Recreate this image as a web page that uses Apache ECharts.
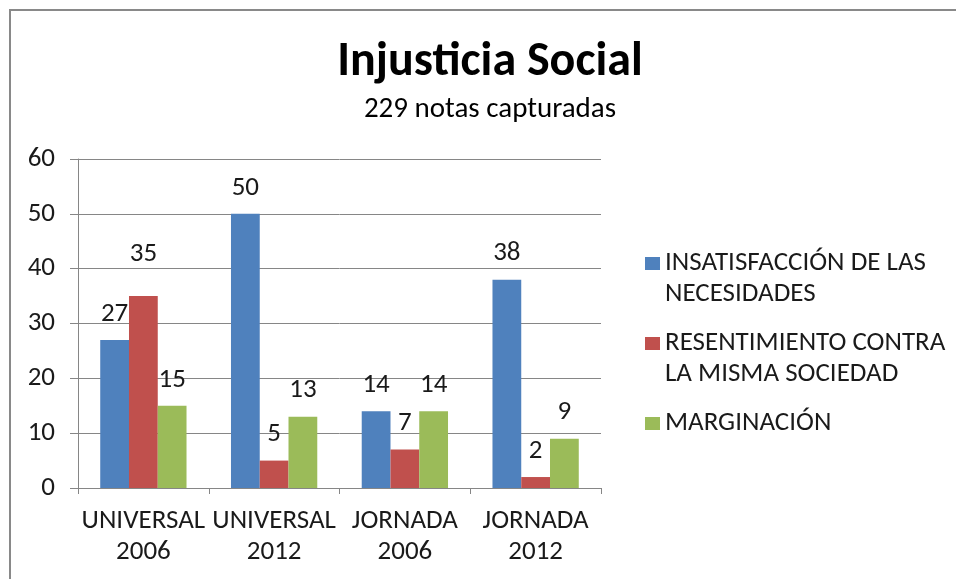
<!DOCTYPE html>
<html>
<head>
<meta charset="utf-8">
<title>Injusticia Social</title>
<script src="https://cdn.jsdelivr.net/npm/echarts@6/dist/echarts.min.js"></script>
<style>
  html, body { margin: 0; padding: 0; background: #fff; }
  #chart { width: 956px; height: 579px; }
</style>
</head>
<body>
<div id="chart"></div>
<script>
  // datos
  const categorias = ['UNIVERSAL\n2006', 'UNIVERSAL\n2012', 'JORNADA\n2006', 'JORNADA\n2012'];
  const nombres = [
    'INSATISFACCIÓN DE LAS\nNECESIDADES',
    'RESENTIMIENTO CONTRA\nLA MISMA SOCIEDAD',
    'MARGINACIÓN'
  ];
  const insatisfaccion = [27, 50, 14, 38];
  const resentimiento = [35, 5, 7, 2];
  const marginacion = [15, 13, 14, 9];
  const ejeY = [0, 10, 20, 30, 40, 50, 60];

  const fuente = 'Carlito, Lato, "Noto Sans", sans-serif';
  const gris = '#868686';
  const texto = '#1a1a1a';
  const colores = ['#4F81BD', '#C0504D', '#9BBB59'];

  const chart = echarts.init(document.getElementById('chart'));

  function serie (i, valores) {
    return {
      name: nombres[i],
      type: 'bar',
      barGap: 0,
      barCategoryGap: '34%',
      itemStyle: { color: colores[i] },
      label: {
        show: true,
        position: 'top',
        distance: 12,
        color: texto,
        fontFamily: fuente,
        fontSize: 27,
        lineHeight: 28
      },
      // la etiqueta del 35 va más arriba en el original
      data: valores.map((v, k) => (i === 1 && k === 0) ? { value: v, label: { distance: 28 } } : v)
    };
  }

  // una leyenda por serie; la línea vacía inicial deja el cuadro a la altura de la primera línea
  function leyenda (i, top) {
    return {
      data: [nombres[i]],
      orient: 'vertical',
      left: 645,
      top: top,
      padding: 0,
      itemWidth: 15,
      itemHeight: 13,
      icon: 'rect',
      selectedMode: false,
      formatter: name => name.indexOf('\n') >= 0 ? '\n' + name : name,
      textStyle: {
        fontFamily: fuente,
        fontSize: 27,
        lineHeight: 31,
        color: texto
      }
    };
  }

  const option = {
    animation: false,
    backgroundColor: '#fff',
    title: [
      {
        text: 'Injusticia Social',
        left: 490,
        top: 37,
        textAlign: 'center',
        padding: 0,
        textStyle: { fontFamily: fuente, fontWeight: 'bold', fontSize: 48, lineHeight: 52, color: '#000' }
      },
      {
        text: '229 notas capturadas',
        left: 490,
        top: 94,
        textAlign: 'center',
        padding: 0,
        textStyle: { fontFamily: fuente, fontWeight: 'normal', fontSize: 29, lineHeight: 32, color: '#000' }
      }
    ],
    legend: [
      leyenda(0, 217),
      leyenda(1, 297),
      leyenda(2, 408)
    ],
    grid: { left: 78, right: 355, top: 159, bottom: 91, containLabel: false },
    xAxis: {
      type: 'category',
      data: categorias,
      axisLine: { lineStyle: { color: gris } },
      axisTick: { show: true, length: 6, lineStyle: { color: gris } },
      axisLabel: {
        interval: 0,
        margin: 18,
        fontFamily: fuente,
        fontSize: 27,
        lineHeight: 31,
        color: texto
      }
    },
    yAxis: {
      type: 'value',
      min: ejeY[0],
      max: ejeY[ejeY.length - 1],
      interval: 10,
      axisLine: { show: true, lineStyle: { color: gris } },
      axisTick: { show: true, length: 8, lineStyle: { color: gris } },
      splitLine: { lineStyle: { color: gris } },
      axisLabel: {
        margin: 23,
        fontFamily: fuente,
        fontSize: 27,
        color: texto
      }
    },
    graphic: [
      {
        type: 'rect',
        silent: true,
        shape: { x: 10, y: 10, width: 1000, height: 1000 },
        style: { fill: 'none', stroke: '#898989', lineWidth: 2 }
      }
    ],
    series: [
      serie(0, insatisfaccion),
      serie(1, resentimiento),
      serie(2, marginacion)
    ]
  };

  chart.setOption(option);
</script>
</body>
</html>
